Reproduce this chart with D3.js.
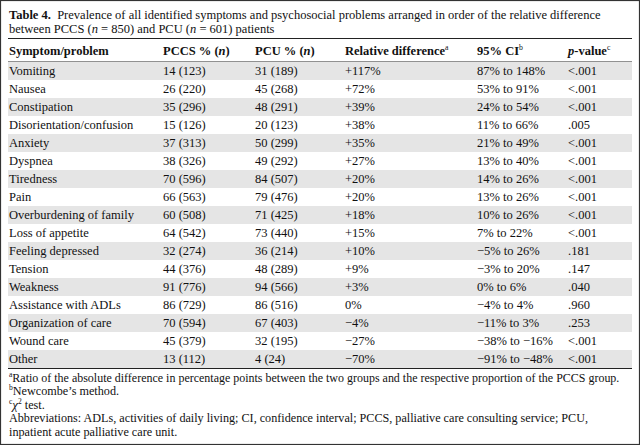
<!DOCTYPE html>
<html>
<head>
<meta charset="utf-8">
<script src="https://cdn.jsdelivr.net/npm/d3@7"></script>
<style>
  html, body { margin: 0; padding: 0; background: #fff; }
  svg { display: block; }
  text { font-family: "Liberation Serif", "Times New Roman", serif; fill: #111; }
</style>
</head>
<body>
<svg id="chart" width="640" height="445"></svg>
<script>
// ---- Data ----
const symptoms = ["Vomiting", "Nausea", "Constipation", "Disorientation/confusion", "Anxiety", "Dyspnea",
  "Tiredness", "Pain", "Overburdening of family", "Loss of appetite", "Feeling depressed", "Tension",
  "Weakness", "Assistance with ADLs", "Organization of care", "Wound care", "Other"];
const pccsPct = [14, 26, 35, 15, 37, 38, 70, 66, 60, 64, 32, 44, 91, 86, 70, 45, 13];
const pccsN   = [123, 220, 296, 126, 313, 326, 596, 563, 508, 542, 274, 376, 776, 729, 594, 379, 112];
const pcuPct  = [31, 45, 48, 20, 50, 49, 84, 79, 71, 73, 36, 48, 94, 86, 67, 32, 4];
const pcuN    = [189, 268, 291, 123, 299, 292, 507, 476, 425, 440, 214, 289, 566, 516, 403, 195, 24];
const relDiff = [117, 72, 39, 38, 35, 27, 20, 20, 18, 15, 10, 9, 3, 0, -4, -27, -70];
const ciLow   = [87, 53, 24, 11, 21, 13, 14, 13, 10, 7, -5, -3, 0, -4, -11, -38, -91];
const ciHigh  = [148, 91, 54, 66, 49, 40, 26, 26, 26, 22, 26, 20, 6, 4, 3, -16, -48];
const pValues = ["<.001", "<.001", "<.001", ".005", "<.001", "<.001", "<.001", "<.001", "<.001",
  "<.001", ".181", ".147", ".040", ".960", ".253", "<.001", "<.001"];

// ---- Layout ----
const W = 640, H = 445;
const svg = d3.select("#chart");
const fs = 12.5;
const ffs = 12.2;
const left = 8, right = 632;
const colX = [9, 163, 255, 345, 477, 568];

const fmtSigned = v => (v > 0 ? "+" : v < 0 ? "\u2212" : "") + Math.abs(v) + "%";
const fmtPct = v => (v < 0 ? "\u2212" : "") + Math.abs(v) + "%";

const rows = symptoms.map((s, i) => ({
  i, s,
  cells: [
    s,
    `${pccsPct[i]} (${pccsN[i]})`,
    `${pcuPct[i]} (${pcuN[i]})`,
    fmtSigned(relDiff[i]),
    `${fmtPct(ciLow[i])} to ${fmtPct(ciHigh[i])}`,
    pValues[i]
  ]
}));

const y = d3.scaleBand().domain(d3.range(symptoms.length)).range([62, 368]).padding(0);

// Frame
svg.append("rect").attr("x", 0.5).attr("y", 0.5).attr("width", W - 1).attr("height", H - 1)
  .attr("fill", "#fff").attr("stroke", "#333").attr("stroke-width", 1.2);

// Title
const t1 = svg.append("text").attr("x", 9).attr("y", 19).attr("font-size", fs);
t1.append("tspan").attr("font-weight", "bold").text("Table 4.");
t1.append("tspan").text("\u00a0 Prevalence of all identified symptoms and psychosocial problems arranged in order of the relative difference");
const t2 = svg.append("text").attr("x", 9).attr("y", 33).attr("font-size", fs);
t2.append("tspan").text("between PCCS (");
t2.append("tspan").attr("font-style", "italic").text("n");
t2.append("tspan").text(" = 850) and PCU (");
t2.append("tspan").attr("font-style", "italic").text("n");
t2.append("tspan").text(" = 601) patients");

// Rules
const rule = (yy, w) => svg.append("line").attr("x1", left).attr("x2", right)
  .attr("y1", yy).attr("y2", yy).attr("stroke", "#222").attr("stroke-width", w);
rule(38.5, 1);

// Header
const hy = 55;
const headers = [
  [{t: "Symptom/problem"}],
  [{t: "PCCS % ("}, {t: "n", i: true}, {t: ")"}],
  [{t: "PCU % ("}, {t: "n", i: true}, {t: ")"}],
  [{t: "Relative difference"}, {t: "a", sup: true}],
  [{t: "95% CI"}, {t: "b", sup: true}],
  [{t: "p", i: true}, {t: "-value"}, {t: "c", sup: true}]
];
headers.forEach((parts, c) => {
  const tx = svg.append("text").attr("x", colX[c]).attr("y", hy).attr("font-size", fs).attr("font-weight", "bold");
  parts.forEach(p => {
    const sp = tx.append("tspan").text(p.t);
    if (p.i) sp.attr("font-style", "italic");
    if (p.sup) sp.attr("font-size", fs * 0.62).attr("dy", -5).attr("font-weight", "normal");
  });
});
rule(62, 1);

// Row shading
svg.append("g").selectAll("rect").data(rows.filter(r => r.i % 2 === 0)).join("rect")
  .attr("x", left).attr("width", right - left)
  .attr("y", d => y(d.i)).attr("height", y.bandwidth())
  .attr("fill", "#e5e5e5");

// Row text
const rowG = svg.append("g").selectAll("g").data(rows).join("g")
  .attr("transform", d => `translate(0,${y(d.i) + y.bandwidth() / 2 + 4.3})`);
rowG.selectAll("text").data(d => d.cells).join("text")
  .attr("x", (d, c) => colX[c]).attr("font-size", fs).text(d => d);

rule(368.5, 1);

// Footnotes
const fy = [381.5, 395, 408.5, 422, 435.5];
const footMax = [607, null, null, 579, null];
const foot = [
  [{t: "a", sup: true}, {t: "Ratio of the absolute difference in percentage points between the two groups and the respective proportion of the PCCS group."}],
  [{t: "b", sup: true}, {t: "Newcombe\u2019s method."}],
  [{t: "c", sup: true}, {t: "\u03c7", i: true}, {t: "2", sup: true}, {t: " test."}],
  [{t: "Abbreviations: ADLs, activities of daily living; CI, confidence interval; PCCS, palliative care consulting service; PCU,"}],
  [{t: "inpatient acute palliative care unit."}]
];
foot.forEach((parts, k) => {
  const tx = svg.append("text").attr("x", 9).attr("y", fy[k]).attr("font-size", ffs);
  let up = false;
  parts.forEach(p => {
    const sp = tx.append("tspan").text(p.t);
    if (p.i) sp.attr("font-style", "italic").attr("font-size", ffs * 1.05);
    if (p.sup) { sp.attr("font-size", ffs * 0.62).attr("dy", up ? 0 : -5); up = true; }
    else if (up) { sp.attr("dy", 5); up = false; }
    if (footMax[k] && p.t.length > 20) {
      const len = sp.node().getComputedTextLength();
      if (len > footMax[k]) sp.attr("textLength", footMax[k]).attr("lengthAdjust", "spacingAndGlyphs");
    }
  });
});
</script>
</body>
</html>
